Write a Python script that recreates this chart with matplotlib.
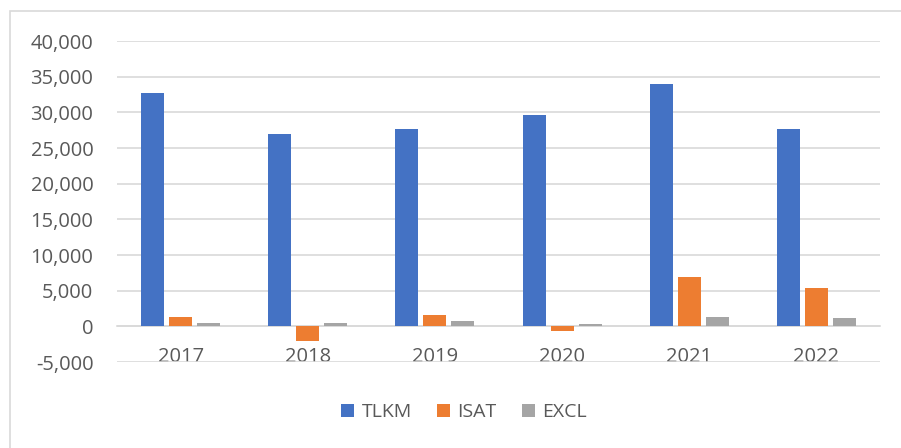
import numpy as np
import matplotlib.pyplot as plt
from matplotlib.patches import Rectangle
from matplotlib.ticker import FuncFormatter

years = ['2017', '2018', '2019', '2020', '2021', '2022']
tlkm = [32700, 27000, 27600, 29600, 34000, 27700]
isat = [1300, -2050, 1640, -650, 6950, 5410]
excl = [420, 400, 700, 380, 1300, 1120]

plt.rcParams['font.family'] = ['Open Sans', 'DejaVu Sans']

fig = plt.figure(figsize=(9.01, 4.48), dpi=100)
ax = fig.add_axes([117/901, 1 - 362/448, (880 - 117)/901, (362 - 41)/448])

# outer chart border (only left/top visible in reference)
fig.patches.append(Rectangle((10/901, -0.1), 1.2, 1 - 11/448 + 0.1,
                             transform=fig.transFigure, fill=False,
                             edgecolor='#d9d9d9', linewidth=1.2))

index = np.arange(len(years))
bar_width = 0.18
step = 0.22
ax.bar(index - step, tlkm, bar_width, color='#4472c4', label='TLKM', zorder=3)
ax.bar(index, isat, bar_width, color='#ed7d31', label='ISAT', zorder=3)
ax.bar(index + step, excl, bar_width, color='#a5a5a5', label='EXCL', zorder=3)

ax.set_xlim(-0.5, len(years) - 0.5)
ax.set_ylim(-5000, 40000)
ax.set_yticks(np.arange(-5000, 40001, 5000))
ax.yaxis.set_major_formatter(FuncFormatter(lambda v, p: f'{int(v):,}'))
ax.grid(axis='y', color='#d9d9d9', linewidth=1.2, zorder=0)

for s in ['top', 'right', 'left']:
    ax.spines[s].set_visible(False)
ax.spines['bottom'].set_position(('data', 0))
ax.spines['bottom'].set_color('#d9d9d9')
ax.spines['bottom'].set_linewidth(1.2)

ax.set_xticks(index)
ax.set_xticklabels(years)
ax.tick_params(axis='x', length=0, pad=15, labelsize=14.5, labelcolor='#595959')
ax.tick_params(axis='y', length=0, pad=17, labelsize=14.5, labelcolor='#595959')

fig.legend(loc='center', bbox_to_anchor=(0.515, 1 - 412/448), ncol=3, frameon=False,
           fontsize=14, labelcolor='#595959', handlelength=0.65, handleheight=0.65,
           columnspacing=1.3, handletextpad=0.4)

fig.savefig('out.png', dpi=100)
